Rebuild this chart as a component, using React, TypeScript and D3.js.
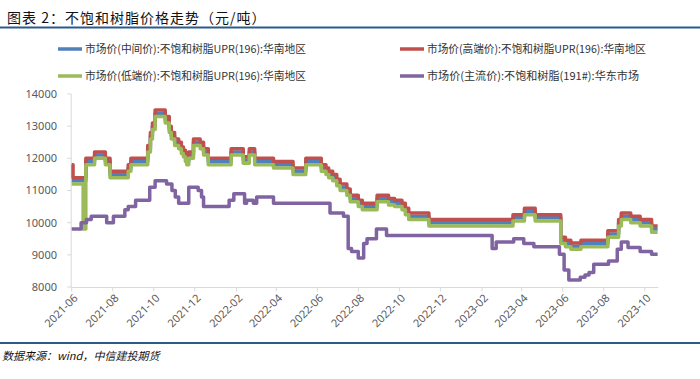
import React from "react";
import * as d3 from "d3";

const bandDates = [
  "2021-06-01","2021-06-03","2021-06-18","2021-06-22","2021-07-05","2021-07-21","2021-07-28","2021-08-24","2021-08-28","2021-09-22",
  "2021-09-26","2021-09-29","2021-10-03","2021-10-18","2021-10-24","2021-10-27","2021-11-01","2021-11-07","2021-11-11","2021-11-14",
  "2021-11-17","2021-11-19","2021-11-22","2021-11-29","2021-12-09","2021-12-14","2021-12-21","2022-01-24","2022-02-11","2022-02-20",
  "2022-02-28","2022-03-28","2022-04-26","2022-05-15","2022-06-07","2022-06-14","2022-06-18","2022-06-24","2022-06-30","2022-07-05",
  "2022-07-15","2022-07-20","2022-08-01","2022-08-07","2022-08-29","2022-09-15","2022-09-24","2022-10-05","2022-10-10","2022-10-15",
  "2022-11-14","2023-03-19","2023-04-05","2023-04-21","2023-05-29","2023-06-05","2023-06-13","2023-06-28","2023-08-07","2023-08-23",
  "2023-08-27","2023-09-10","2023-09-24","2023-10-11","2023-10-20",
];

const midValues = [
  11300,11300,11300,11900,12100,11900,11500,11700,11900,12300,
  12700,13000,13400,13200,12900,12700,12500,12400,12250,12150,
  12000,11900,12100,12500,12400,12200,11900,12200,11950,12200,
  11900,11800,11600,11900,11700,11600,11500,11400,11250,11100,
  10950,10750,10600,10500,10750,10650,10600,10500,10350,10200,
  10000,10150,10350,10150,9450,9350,9270,9350,9650,10000,
  10200,10100,10000,9800,9800,
];

const highValues = [
  11800,11400,11400,12000,12200,12000,11600,11800,12000,12400,
  12800,13100,13500,13300,13000,12800,12600,12500,12350,12250,
  12100,12000,12200,12600,12500,12300,12000,12300,12050,12300,
  12000,11900,11700,12000,11800,11700,11600,11500,11350,11200,
  11050,10850,10700,10600,10850,10750,10700,10600,10450,10300,
  10100,10250,10450,10250,9550,9450,9370,9450,9750,10100,
  10300,10200,10100,9900,9900,
];

const lowValues = [
  11200,11200,9800,11800,12000,11800,11400,11600,11800,12200,
  12600,12900,13300,13100,12800,12600,12400,12300,12150,12050,
  11900,11800,12000,12400,12300,12100,11800,12100,11850,12100,
  11800,11700,11500,11800,11600,11500,11400,11300,11150,11000,
  10850,10650,10500,10400,10650,10550,10500,10400,10250,10100,
  9900,10050,10250,10050,9350,9250,9170,9250,9550,9900,
  10100,10000,9900,9700,9700,
];

const mainDates = [
  "2021-06-01","2021-06-15","2021-06-23","2021-06-30","2021-07-23","2021-08-02","2021-08-19","2021-08-24","2021-09-04","2021-09-25",
  "2021-10-03","2021-10-20","2021-10-28","2021-11-02","2021-11-07","2021-11-22","2021-12-06","2021-12-11","2021-12-14","2022-01-21",
  "2022-01-28","2022-02-13","2022-02-16","2022-02-26","2022-03-03","2022-03-28","2022-06-20","2022-07-10","2022-07-17","2022-07-22",
  "2022-08-01","2022-08-09","2022-08-14","2022-08-28","2022-09-12","2023-02-16","2023-02-22","2023-03-20","2023-04-04","2023-04-19",
  "2023-05-27","2023-06-03","2023-06-10","2023-06-27","2023-07-04","2023-07-10","2023-07-17","2023-08-08","2023-08-21","2023-08-27",
  "2023-09-06","2023-09-24","2023-10-11","2023-10-20",
];

const mainValues = [
  9800,10000,10100,10200,10000,10200,10400,10500,10700,11100,
  11300,11200,11000,10800,10600,11100,11000,10800,10500,10700,
  10900,10600,10700,10600,10800,10600,10300,10200,9200,9100,
  8900,9350,9500,9800,9600,9200,9400,9500,9350,9250,
  9020,8530,8220,8300,8370,8450,8710,8810,9170,9400,
  9230,9100,9020,9020,
];

const xTickLabels = [
  "2021-06","2021-08","2021-10","2021-12","2022-02","2022-04","2022-06","2022-08",
  "2022-10","2022-12","2023-02","2023-04","2023-06","2023-08","2023-10",
];
const yTicks = [8000, 9000, 10000, 11000, 12000, 13000, 14000];

const seriesNames = [
  "市场价(中间价):不饱和树脂UPR(196):华南地区",
  "市场价(高端价):不饱和树脂UPR(196):华南地区",
  "市场价(低端价):不饱和树脂UPR(196):华南地区",
  "市场价(主流价):不饱和树脂(191#):华东市场",
];
const colors = ["#4F81BD", "#C0504D", "#9BBB59", "#8064A2"];

const title = "图表 2：不饱和树脂价格走势（元/吨）";
const source = "数据来源：wind，中信建投期货";

const parse = d3.timeParse("%Y-%m-%d");
const parseMonth = d3.timeParse("%Y-%m");

export default function App() {
  const W = 700, H = 379;
  const left = 71.7, right = 658.3, top = 94, bottom = 287;
  const x = d3.scaleTime()
    .domain([parse("2021-06-01")!, parse("2023-10-21")!])
    .range([left, right]);
  const y = d3.scaleLinear().domain([8000, 14000]).range([bottom, top]);

  const line = d3.line<[Date, number]>()
    .x((d) => x(d[0]))
    .y((d) => y(d[1]))
    .curve(d3.curveStepAfter);

  const bd = bandDates.map((s) => parse(s)!);
  const md = mainDates.map((s) => parse(s)!);
  const series: [Date, number][][] = [
    bd.map((d, i) => [d, midValues[i]]),
    bd.map((d, i) => [d, highValues[i]]),
    bd.map((d, i) => [d, lowValues[i]]),
    md.map((d, i) => [d, mainValues[i]]),
  ];

  const axisColor = "#D9D9D9";
  const labelColor = "#595959";
  const font = "'Noto Sans', 'Noto Sans CJK SC', sans-serif";
  const cjk = "'Noto Sans CJK SC', sans-serif";

  const legendPos = [
    { lx: 58, ly: 49, len: 221 },
    { lx: 400, ly: 49, len: 219 },
    { lx: 58, ly: 76, len: 221 },
    { lx: 400, ly: 76, len: 212 },
  ];

  return (
    <svg width={W} height={H} style={{ position: "absolute", left: 0, top: 0, background: "#fff" }}>
      <rect x={0} y={0} width={W} height={H} fill="#fff" />
      {/* title */}
      <text x={7} y={23} fontFamily={cjk} fontSize={14} letterSpacing={1} fill="#111">{title}</text>
      <line x1={0} x2={W} y1={27.5} y2={27.5} stroke="#2B5B8B" strokeWidth={2} />

      {/* legend */}
      {seriesNames.map((name, i) => (
        <g key={name}>
          <line x1={legendPos[i].lx} x2={legendPos[i].lx + 24} y1={legendPos[i].ly} y2={legendPos[i].ly}
            stroke={colors[i]} strokeWidth={3.5} />
          <text x={legendPos[i].lx + 27} y={legendPos[i].ly} dy="0.35em" fontFamily={cjk} fontSize={11}
            textLength={legendPos[i].len} lengthAdjust="spacingAndGlyphs" fill="#333">{name}</text>
        </g>
      ))}

      {/* axes */}
      <line x1={left - 0.5} x2={left - 0.5} y1={top} y2={bottom} stroke={axisColor} strokeWidth={1} />
      <line x1={left - 0.5} x2={right} y1={bottom + 0.5} y2={bottom + 0.5} stroke={axisColor} strokeWidth={1} />
      {yTicks.map((t) => (
        <g key={t}>
          <line x1={left - 4.5} x2={left - 0.5} y1={y(t)} y2={y(t)} stroke={axisColor} />
          <text x={57} y={y(t)} dy="0.35em" textAnchor="end" fontFamily={font} fontSize={11} fill={labelColor}>{t}</text>
        </g>
      ))}
      {xTickLabels.map((t) => {
        const tx = x(parseMonth(t)!);
        return (
          <g key={t}>
            <line x1={tx} x2={tx} y1={bottom} y2={bottom + 4.5} stroke={axisColor} />
            <text transform={`translate(${tx + 4},${bottom + 9}) rotate(-45)`} textAnchor="end" dy="0.35em"
              fontFamily={font} fontSize={11} fill={labelColor}>{t}</text>
          </g>
        );
      })}

      {/* series */}
      {series.map((s, i) => (
        <path key={i} d={line(s) || ""} fill="none" stroke={colors[i]} strokeWidth={3.5} strokeLinejoin="round" />
      ))}

      {/* footer */}
      <line x1={0} x2={W} y1={343} y2={343} stroke="#2B5B8B" strokeWidth={2} />
      <text x={2} y={360} fontFamily={cjk} fontStyle="italic" fontSize={11} fill="#111">{source}</text>
    </svg>
  );
}
